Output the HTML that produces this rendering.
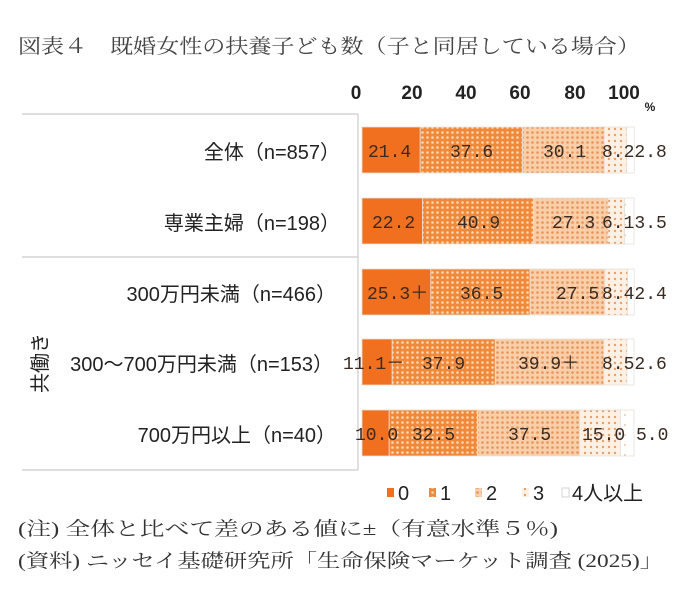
<!DOCTYPE html>
<html><head><meta charset="utf-8"><style>
html,body{margin:0;padding:0;background:#fff;}
svg{display:block;}
.g{font-family:"Liberation Sans","Noto Sans CJK JP",sans-serif;}
.s{font-family:"Liberation Serif","Noto Serif CJK JP",serif;}
.m{font-family:"Liberation Mono","Noto Sans CJK JP",monospace;font-size:18px;fill:#3a2a22;}
</style></head><body>
<svg width="680" height="590" viewBox="0 0 680 590" xmlns="http://www.w3.org/2000/svg">
<defs>
<pattern id="p1" width="5" height="5" patternUnits="userSpaceOnUse"><rect width="5" height="5" fill="#f08a3a"/><circle cx="2.5" cy="2.5" r="1.3" fill="#fbd7b4"/></pattern>
<pattern id="p2" width="5" height="5" patternUnits="userSpaceOnUse"><rect width="5" height="5" fill="#f8cfa8"/><circle cx="2.5" cy="2.5" r="1.3" fill="#e9945a"/></pattern>
<pattern id="p3" width="6" height="6" patternUnits="userSpaceOnUse"><rect width="6" height="6" fill="#fdf0e4"/><circle cx="3" cy="3" r="1.2" fill="#e9a06a"/></pattern>
<pattern id="p4" width="10" height="10" patternUnits="userSpaceOnUse"><rect width="10" height="10" fill="#fff"/><circle cx="5" cy="5" r="0.9" fill="#e6b896"/></pattern>
</defs>
<rect width="680" height="590" fill="#fff"/>
<text class="s" x="18" y="53" font-size="20" fill="#444" textLength="622" lengthAdjust="spacingAndGlyphs">図表４　既婚女性の扶養子ども数（子と同居している場合）</text>
<g class="g" font-size="19" fill="#222" text-anchor="middle" font-weight="bold">
<text x="356" y="99">0</text><text x="412" y="99">20</text><text x="466" y="99">40</text>
<text x="520" y="99">60</text><text x="575" y="99">80</text><text x="624" y="99">100</text>
<text x="650" y="111" font-size="12">%</text>
</g>
<g stroke="#ccc" stroke-width="1.2">
<line x1="22" y1="114" x2="358" y2="114"/>
<line x1="22" y1="257" x2="358" y2="257"/>
<line x1="22" y1="470" x2="358" y2="470"/>
<line x1="358" y1="114" x2="358" y2="470"/>
</g>
<g class="g" font-size="20" fill="#222" text-anchor="end">
<text x="340" y="159">全体（n=857）</text>
<text x="340" y="230">専業主婦（n=198）</text>
<text x="336" y="301">300万円未満（n=466）</text>
<text x="333" y="371">300～700万円未満（n=153）</text>
<text x="336" y="442">700万円以上（n=40）</text>
</g>
<text class="g" font-size="20" fill="#222" transform="translate(47,363) rotate(-90)" text-anchor="middle">共働き</text>
<g stroke="#e8e0d8" stroke-width="0.8">
<rect x="362" y="127" width="58.2" height="46" fill="#f07020"/>
<rect x="420.2" y="127" width="102.3" height="46" fill="url(#p1)"/>
<rect x="522.5" y="127" width="81.9" height="46" fill="url(#p2)"/>
<rect x="604.4" y="127" width="22.3" height="46" fill="url(#p3)"/>
<rect x="626.7" y="127" width="7.6" height="46" fill="url(#p4)"/>
<rect x="362" y="198" width="60.4" height="46" fill="#f07020"/>
<rect x="422.4" y="198" width="111.2" height="46" fill="url(#p1)"/>
<rect x="533.6" y="198" width="74.3" height="46" fill="url(#p2)"/>
<rect x="607.9" y="198" width="16.6" height="46" fill="url(#p3)"/>
<rect x="624.5" y="198" width="9.5" height="46" fill="url(#p4)"/>
<rect x="362" y="269" width="68.8" height="46" fill="#f07020"/>
<rect x="430.8" y="269" width="99.3" height="46" fill="url(#p1)"/>
<rect x="530.1" y="269" width="74.8" height="46" fill="url(#p2)"/>
<rect x="604.9" y="269" width="22.8" height="46" fill="url(#p3)"/>
<rect x="627.7" y="269" width="6.5" height="46" fill="url(#p4)"/>
<rect x="362" y="339" width="30.2" height="46" fill="#f07020"/>
<rect x="392.2" y="339" width="103.1" height="46" fill="url(#p1)"/>
<rect x="495.3" y="339" width="108.5" height="46" fill="url(#p2)"/>
<rect x="603.8" y="339" width="23.1" height="46" fill="url(#p3)"/>
<rect x="626.9" y="339" width="7.1" height="46" fill="url(#p4)"/>
<rect x="362" y="410" width="27.2" height="46" fill="#f07020"/>
<rect x="389.2" y="410" width="88.4" height="46" fill="url(#p1)"/>
<rect x="477.6" y="410" width="102" height="46" fill="url(#p2)"/>
<rect x="579.6" y="410" width="40.8" height="46" fill="url(#p3)"/>
<rect x="620.4" y="410" width="13.6" height="46" fill="url(#p4)"/>
</g>
<g class="m">
<text x="368" y="157">21.4</text><text x="450" y="157">37.6</text><text x="543" y="157">30.1</text><text x="602" y="157">8.22.8</text>
<text x="372" y="228">22.2</text><text x="457" y="228">40.9</text><text x="552" y="228">27.3</text><text x="602" y="228">6.13.5</text>
<text x="367" y="299">25.3＋</text><text x="460" y="299">36.5</text><text x="556" y="299">27.5</text><text x="602" y="299">8.42.4</text>
<text x="343" y="369">11.1－</text><text x="422" y="369">37.9</text><text x="518" y="369">39.9＋</text><text x="602" y="369">8.52.6</text>
<text x="355" y="440">10.0</text><text x="412" y="440">32.5</text><text x="508" y="440">37.5</text><text x="582" y="440">15.0</text><text x="636" y="440">5.0</text>
</g>
<g class="g" font-size="20" fill="#222">
<rect x="387" y="488" width="7" height="9" fill="#f07020"/><text x="398" y="500">0</text>
<rect x="429" y="488" width="7" height="9" fill="url(#p1)"/><text x="440" y="500">1</text>
<rect x="475" y="488" width="7" height="9" fill="url(#p2)"/><text x="486" y="500">2</text>
<rect x="522" y="488" width="7" height="9" fill="url(#p3)"/><text x="533" y="500">3</text>
<rect x="562" y="488" width="7" height="9" fill="#fff" stroke="#ccc" stroke-width="0.8"/><text x="572" y="500">4人以上</text>
</g>
<g class="s" font-size="19" fill="#333">
<text x="18" y="535" textLength="540" lengthAdjust="spacingAndGlyphs">(注) 全体と比べて差のある値に±（有意水準５％)</text>
<text x="18" y="567" textLength="645" lengthAdjust="spacingAndGlyphs">(資料) ニッセイ基礎研究所「生命保険マーケット調査 (2025)」</text>
</g>
</svg>
</body></html>
